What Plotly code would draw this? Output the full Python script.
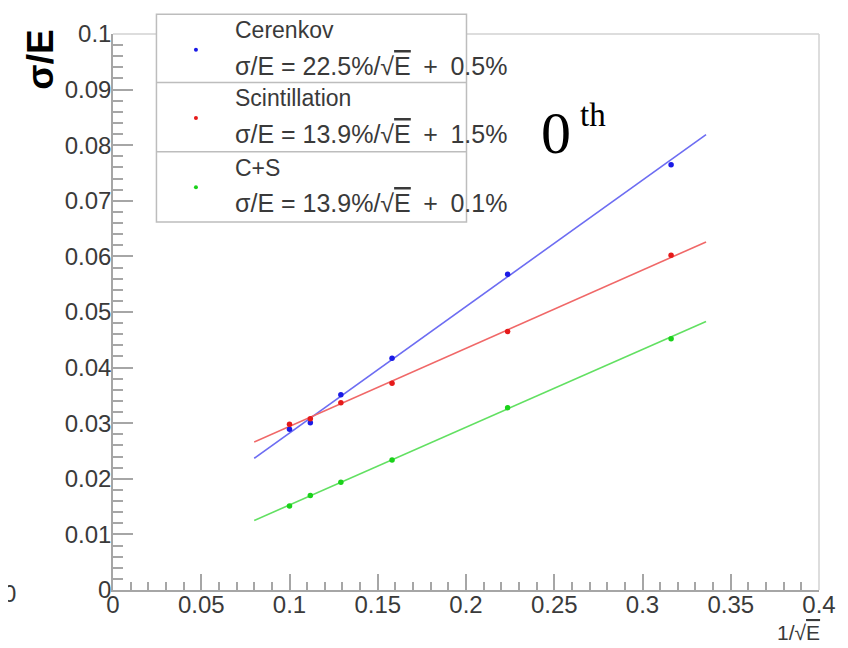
import plotly.graph_objects as go

# ---- data ----
inv_sqrt_e = [0.1, 0.1118, 0.1291, 0.1581, 0.2236, 0.3162]
cerenkov = [0.0289, 0.0301, 0.0351, 0.0417, 0.0568, 0.0765]
scintillation = [0.0298, 0.0308, 0.0337, 0.0372, 0.0465, 0.0602]
c_plus_s = [0.0151, 0.0170, 0.0194, 0.0234, 0.0328, 0.0452]

fit_x = [0.08, 0.336]
fit_cerenkov = [0.0237, 0.0819]
fit_scintillation = [0.0266, 0.0626]
fit_c_plus_s = [0.0125, 0.0483]

series_names = ["Cerenkov", "Scintillation", "C+S"]
SQRT_E = "√<span style='text-decoration:overline'>E</span>"
series_fits = [
    f"σ/E = 22.5%/{SQRT_E}\u2002+\u20020.5%",
    f"σ/E = 13.9%/{SQRT_E}\u2002+\u20021.5%",
    f"σ/E = 13.9%/{SQRT_E}\u2002+\u20020.1%",
]
x_ticks = [0, 0.05, 0.1, 0.15, 0.2, 0.25, 0.3, 0.35, 0.4]
y_ticks = [0, 0.01, 0.02, 0.03, 0.04, 0.05, 0.06, 0.07, 0.08, 0.09, 0.1]

# ---- styles ----
marker_colors = ["#1a1ae6", "#e61a1a", "#1ad21a"]
line_colors = ["#6d6df2", "#f06868", "#62e062"]
OFF = 8                      # page body margin
W, H = 848 - OFF, 648 - OFF
# plot area in page pixels
L, R, T, B = 113, 828, 28, 590
FONT = "Liberation Sans, Arial, Helvetica, sans-serif"
TXT = "#3a3a3a"
AX = "#a6a6a6"


def px(x):
    return (x - L) / (R - L)


def py(y):
    return (B - y) / (B - T)


fig = go.Figure()
ys = [cerenkov, scintillation, c_plus_s]
fits = [fit_cerenkov, fit_scintillation, fit_c_plus_s]
for i in range(3):
    fig.add_trace(go.Scatter(x=fit_x, y=fits[i], mode="lines",
                             line=dict(color=line_colors[i], width=1.6),
                             hoverinfo="skip"))
for i in range(3):
    fig.add_trace(go.Scatter(x=inv_sqrt_e, y=ys[i], mode="markers",
                             marker=dict(color=marker_colors[i], size=5.5),
                             name=series_names[i]))

axis_common = dict(
    showline=True, linecolor=AX, linewidth=1.5, mirror=False,
    ticks="inside", tickcolor=AX, tickwidth=1.5,
    showgrid=False, zeroline=False,
    tickfont=dict(family=FONT, size=24, color=TXT),
)
fig.update_xaxes(range=[0, 0.4], tickvals=x_ticks,
                 ticktext=[f"{v:g}" for v in x_ticks], ticklen=16,
                 ticklabelstandoff=-8,
                 minor=dict(ticks="inside", ticklen=8, dtick=0.01, tick0=0,
                            tickcolor=AX, tickwidth=1.5),
                 **axis_common)
fig.update_yaxes(range=[0, 0.1], tickvals=y_ticks,
                 ticktext=[f"{v:g}" for v in y_ticks], ticklen=20,
                 ticklabelstandoff=-5,
                 minor=dict(ticks="inside", ticklen=10, dtick=0.002, tick0=0,
                            tickcolor=AX, tickwidth=1.5),
                 **axis_common)

shapes = [
    # frame top & right
    dict(type="line", xref="paper", yref="paper", x0=0, x1=1, y0=1, y1=1,
         line=dict(color="#d2d2d2", width=1.5), layer="above"),
    dict(type="line", xref="paper", yref="paper", x0=1, x1=1, y0=0, y1=1,
         line=dict(color="#d2d2d2", width=1.5), layer="above"),
    # legend box
    dict(type="rect", xref="paper", yref="paper", x0=px(157), x1=px(471),
         y0=py(218), y1=py(8), fillcolor="white",
         line=dict(color="#bdbdbd", width=1.5), layer="above"),
]
row_tops = [8, 77, 147]
for k in (1, 2):
    shapes.append(dict(type="line", xref="paper", yref="paper",
                       x0=px(157), x1=px(471), y0=py(row_tops[k]), y1=py(row_tops[k]),
                       line=dict(color="#bdbdbd", width=1.5), layer="above"))
annotations = []
for i in range(3):
    top = row_tops[i]
    shapes.append(dict(type="circle", xref="paper", yref="paper",
                       xsizemode="pixel", ysizemode="pixel",
                       xanchor=px(197), yanchor=py(top + 36),
                       x0=-2, x1=2, y0=-2, y1=2,
                       fillcolor=marker_colors[i], line=dict(width=0),
                       layer="above"))
    annotations.append(dict(xref="paper", yref="paper", x=px(235), y=py(top + 16),
                            text=series_names[i], showarrow=False,
                            xanchor="left", yanchor="middle",
                            font=dict(family=FONT, size=23, color=TXT)))
    annotations.append(dict(xref="paper", yref="paper", x=px(235), y=py(top + 52),
                            text=series_fits[i], showarrow=False,
                            xanchor="left", yanchor="middle",
                            font=dict(family=FONT, size=25, color=TXT)))

# axis titles
annotations.append(dict(xref="paper", yref="paper", x=px(40), y=py(54),
                        text="<b>σ/E</b>", textangle=-90, showarrow=False,
                        xanchor="center", yanchor="middle",
                        font=dict(family=FONT, size=37, color="black")))
annotations.append(dict(xref="paper", yref="paper", x=px(831), y=py(633),
                        text=f"1/{SQRT_E}",
                        showarrow=False, xanchor="right", yanchor="middle",
                        font=dict(family=FONT, size=21, color=TXT)))
# "0th" label
annotations.append(dict(xref="paper", yref="paper", x=px(544), y=py(128),
                        text="0", showarrow=False, xanchor="left", yanchor="middle",
                        font=dict(family="Liberation Serif, Times New Roman, serif",
                                  size=60, color="black")))
annotations.append(dict(xref="paper", yref="paper", x=px(584), y=py(110),
                        text="th", showarrow=False, xanchor="left", yanchor="middle",
                        font=dict(family="Liberation Serif, Times New Roman, serif",
                                  size=33, color="black")))
# cropped label at the far left edge
annotations.append(dict(xref="paper", yref="paper", x=px(OFF), y=py(594),
                        text="0", showarrow=False, xanchor="center", yanchor="middle",
                        font=dict(family=FONT, size=24, color=TXT)))

fig.update_layout(
    width=W, height=H,
    margin=dict(l=L - OFF, r=(W + OFF) - R, t=T - OFF, b=(H + OFF) - B),
    plot_bgcolor="white", paper_bgcolor="white",
    showlegend=False,
    shapes=shapes, annotations=annotations,
)
fig.write_html("out.html")
